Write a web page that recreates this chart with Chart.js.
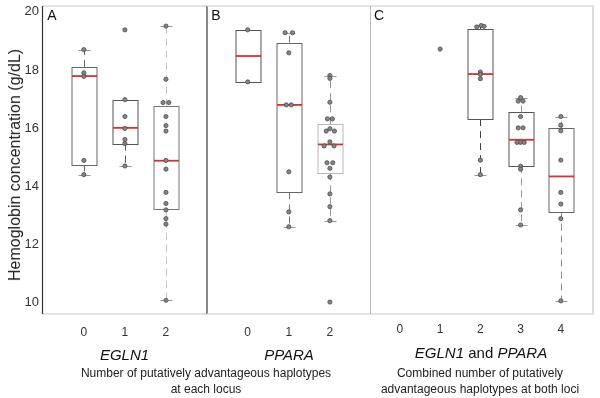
<!DOCTYPE html>
<html><head><meta charset="utf-8">
<script src="https://cdn.jsdelivr.net/npm/chart.js@4.4.1/dist/chart.umd.min.js"></script>
<style>
html,body{margin:0;padding:0;background:#fff;width:600px;height:398px;overflow:hidden;font-family:"Liberation Sans",Arial,sans-serif;}
canvas{position:absolute;top:0;}
.t{position:absolute;white-space:nowrap;color:#111;transform:translate(-50%,-50%);text-align:center;}
.p{position:absolute;font-size:14px;color:#111;transform:translate(-50%,-50%);}
</style></head><body>
<canvas id="cA" width="208" height="398" style="left:0px"></canvas>
<canvas id="cB" width="164" height="398" style="left:207px"></canvas>
<canvas id="cC" width="223" height="398" style="left:371px"></canvas>
<div class="p" style="left:52px;top:15px">A</div>
<div class="p" style="left:216px;top:14.5px">B</div>
<div class="p" style="left:379px;top:15px">C</div>
<div class="t" style="left:15px;top:165px;transform:translate(-50%,-50%) rotate(-90deg);font-size:16px;color:#222">Hemoglobin concentration (g/dL)</div>
<div class="t" style="left:124.5px;top:354px;font-size:15px;font-style:italic">EGLN1</div>
<div class="t" style="left:289px;top:354px;font-size:15px;font-style:italic">PPARA</div>
<div class="t" style="left:481px;top:352px;font-size:15px"><i>EGLN1</i> and <i>PPARA</i></div>
<div class="t" style="left:206px;top:381px;font-size:12px;line-height:16px;color:#222">Number of putatively advantageous haplotypes<br>at each locus</div>
<div class="t" style="left:480px;top:380.5px;font-size:12px;line-height:16px;color:#222">Combined number of putatively<br>advantageous haplotypes at both loci</div>
<script>
// ---- data ----
const yTicks = [10, 12, 14, 16, 18, 20];
const catsA = ['0', '1', '2'];
const catsB = ['0', '1', '2'];
const catsC = ['0', '1', '2', '3', '4'];
// box stats per group: [whiskerLow, q1, median, q3, whiskerHigh]
const boxA = [[14.40, 14.75, 17.79, 18.10, 18.70], [14.70, 15.47, 16.01, 16.98, null], [10.08, 13.22, 14.88, 16.77, 19.51]];
const boxB = [[null, 17.59, 18.48, 19.38, null], [12.61, 13.79, 16.80, 18.94, 19.28], [12.82, 14.45, 15.44, 16.14, 17.81]];
const boxC = [null, null, [14.40, 16.31, 17.86, 19.41, 19.52], [12.67, 14.69, 15.60, 16.54, 17.04], [10.06, 13.13, 14.34, 15.99, 16.40]];
// observations: [group (+ horizontal jitter), hemoglobin]
const ptsA = [[0,18.70],[0,17.90],[0,17.78],[0,14.89],[0,14.40],
  [1,19.38],[1,16.98],[1,16.40],[1,15.99],[1,15.61],[1,15.47],[1,14.70],
  [2,19.51],[2,17.68],[1.93,16.88],[2.07,16.88],[2,16.40],[2,16.09],[2,15.90],[2,14.89],[2,14.59],[2,13.79],[2,13.41],[2,13.19],[2,12.89],[2,12.70],[2,10.08]];
const ptsB = [[0,19.38],[0,17.59],
  [0.91,19.28],[1.09,19.28],[1,18.59],[0.94,16.80],[1.06,16.80],[1,14.50],[1,13.12],[1,12.61],
  [2,17.81],[2,17.71],[2,16.89],[1.94,16.32],[2.06,16.32],[1.91,15.90],[2,15.98],[2.11,15.90],[2,15.53],[1.86,15.39],[2.10,15.39],[1.93,14.81],[2.07,14.81],[2,14.62],[2,14.32],[2,13.74],[2,13.30],[2,12.82],[2,10.02]];
const ptsC = [[1,18.72],
  [1.91,19.48],[2.02,19.53],[2.09,19.50],[2,17.93],[2,17.85],[2,17.70],[2,14.90],[2,14.40],
  [3,17.05],[2.94,16.93],[3.06,16.93],[3,16.40],[2.94,16.01],[3.06,16.01],[2.91,15.51],[3,15.51],[3.09,15.51],[3,14.69],[3,14.59],[3,13.19],[3,12.67],
  [4,16.40],[4,16.10],[4,15.91],[4,14.90],[4,13.79],[4,13.39],[4,12.89],[4,10.06]];

// ---- styles ----
const FAM = '"Liberation Sans", Arial, sans-serif';
const boxColA = ['#666', '#555', '#777'], whiskColA = ['#666', '#555', '#c4c4c4'];
const boxColB = ['#555', '#666', '#b8b8b8'], whiskColB = ['#666', '#777', '#999'];
const boxColC = ['#555', '#555', '#555', '#555', '#666'], whiskColC = ['#555', '#555', '#444', '#999', '#888'];
const MEDIAN = '#d9302c';

function boxPlugin(stats, boxCol, whiskCol) {
  return {
    id: 'boxes',
    beforeDatasetsDraw(chart) {
      const {ctx, scales: {x, y}} = chart;
      const hw = 12.5, cw = 6;
      stats.forEach((s, i) => {
        if (!s) return;
        const [lo, q1, md, q3, hi] = s;
        const cx = Math.round(x.getPixelForValue(i)) + 0.5;
        ctx.save();
        ctx.lineWidth = 1;
        ctx.strokeStyle = whiskCol[i];
        ctx.setLineDash([7, 5]);
        const seg = (x1, y1, x2, y2) => { ctx.beginPath(); ctx.moveTo(x1, y1); ctx.lineTo(x2, y2); ctx.stroke(); };
        if (hi != null && hi > q3) seg(cx, y.getPixelForValue(q3), cx, y.getPixelForValue(hi));
        if (lo != null && lo < q1) seg(cx, y.getPixelForValue(q1), cx, y.getPixelForValue(lo));
        ctx.setLineDash([]);
        ctx.strokeStyle = '#999';
        if (hi != null) { const py = Math.round(y.getPixelForValue(hi)) + 0.5; seg(cx - cw, py, cx + cw, py); }
        if (lo != null) { const py = Math.round(y.getPixelForValue(lo)) + 0.5; seg(cx - cw, py, cx + cw, py); }
        const t = Math.round(y.getPixelForValue(q3)) + 0.5, b = Math.round(y.getPixelForValue(q1)) + 0.5;
        ctx.fillStyle = '#fff';
        ctx.fillRect(cx - hw, t, 2 * hw, b - t);
        ctx.strokeStyle = boxCol[i];
        ctx.strokeRect(cx - hw, t, 2 * hw, b - t);
        ctx.strokeStyle = MEDIAN;
        ctx.lineWidth = 1.8;
        const m = y.getPixelForValue(md);
        seg(cx - hw, m, cx + hw, m);
        ctx.restore();
      });
    }
  };
}

function borderPlugin(b) {
  return {
    id: 'frame',
    afterDatasetsDraw(chart) {
      const {ctx, chartArea: {left, right, top, bottom}} = chart;
      ctx.save();
      const seg = (c, w, x1, y1, x2, y2) => { ctx.strokeStyle = c; ctx.lineWidth = w; ctx.beginPath(); ctx.moveTo(x1, y1); ctx.lineTo(x2, y2); ctx.stroke(); };
      seg('#d8d8d8', 1.6, left, top, right, top);
      seg('#d8d8d8', 1.6, left, bottom, right, bottom);
      if (b.left) seg(b.left[0], b.left[1], left + 0.5, top, left + 0.5, bottom);
      if (b.right) seg(b.right[0], b.right[1], right - b.right[2], top, right - b.right[2], bottom);
      ctx.restore();
    }
  };
}

function makeChart(id, cats, xmin, xmax, stats, pts, boxCol, whiskCol, showY, tickPad, padRight, borders) {
  const yScale = {
    min: 9.61, max: 20.20, display: showY,
    grid: {display: false, drawTicks: false}, border: {display: false},
    afterBuildTicks: s => { s.ticks = yTicks.map(v => ({value: v})); },
    ticks: {padding: 3, color: '#333', font: {size: 13, family: FAM}}
  };
  if (showY) yScale.afterFit = s => { s.width = 42; s.paddingTop = 0; s.paddingBottom = 0; };
  return new Chart(document.getElementById(id), {
    type: 'scatter',
    data: {datasets: [{
      data: pts.map(p => ({x: p[0], y: p[1]})),
      pointRadius: 2.1, pointBackgroundColor: '#858585', pointBorderColor: '#4a4a4a', pointBorderWidth: 0.8
    }]},
    options: {
      responsive: false, animation: false, events: [],
      layout: {autoPadding: false, padding: {top: 6, right: padRight, left: 0, bottom: 0}},
      plugins: {legend: {display: false}, tooltip: {enabled: false}},
      scales: {
        x: {
          type: 'linear', min: xmin, max: xmax,
          grid: {display: false, drawTicks: false}, border: {display: false},
          afterBuildTicks: s => { s.ticks = cats.map((c, i) => ({value: i})); },
          afterFit: s => { s.height = 84; s.paddingLeft = 0; s.paddingRight = 0; },
          ticks: {padding: tickPad, color: '#333', font: {size: 12, family: FAM}, maxRotation: 0, autoSkip: false,
                  callback: (v, i) => cats[i]}
        },
        y: yScale
      }
    },
    plugins: [boxPlugin(stats, boxCol, whiskCol), borderPlugin(borders)]
  });
}

makeChart('cA', catsA, -1.02, 3.0, boxA, ptsA, boxColA, whiskColA, true, 11, 1,
  {left: ['#333', 1.2], right: ['#555', 1.4, 0]});
makeChart('cB', catsB, -0.99, 3.0, boxB, ptsB, boxColB, whiskColB, false, 11, 0,
  {right: ['#bdbdbd', 2, 0]});
makeChart('cC', catsC, -0.72, 4.8, boxC, ptsC, boxColC, whiskColC, false, 8, 1,
  {right: ['#d0d0d0', 1.5, 0]});
</script>
</body></html>
